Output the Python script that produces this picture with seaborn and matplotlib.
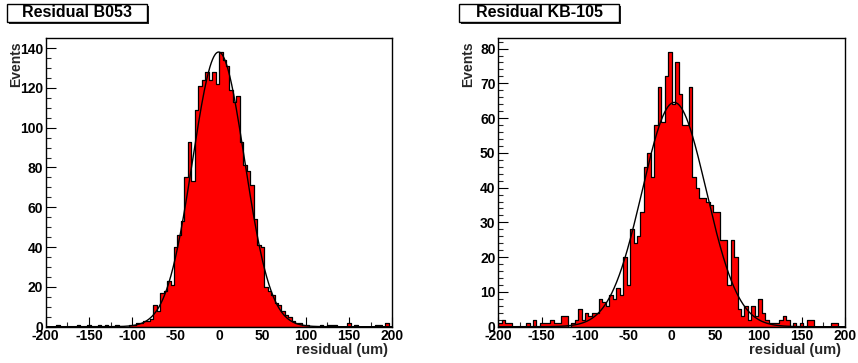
import numpy as np
import pandas as pd
import matplotlib
matplotlib.use("Agg")
import matplotlib.pyplot as plt
import seaborn as sns
from matplotlib.patches import Rectangle
from matplotlib.ticker import MultipleLocator, FixedLocator

# ---------------- data ----------------
BIN_LO, BIN_HI, BIN_W = -200, 200, 4

b053_counts = [
    0, 0, 0, 1, 0, 0, 0, 0, 0, 1,
    0, 0, 1, 0, 0, 1, 0, 1, 0, 0,
    1, 0, 0, 0, 1, 1, 2, 2, 3, 3,
    4, 11, 8, 17, 18, 23, 21, 40, 46, 53,
    75, 93, 73, 109, 121, 124, 128, 124, 128, 122,
    138, 134, 131, 119, 113, 116, 93, 81, 78, 71,
    54, 41, 40, 20, 18, 16, 12, 11, 8, 6,
    5, 3, 2, 2, 1, 1, 0, 0, 0, 1,
    0, 1, 1, 1, 0, 0, 0, 2, 0, 1,
    0, 0, 0, 0, 0, 1, 1, 0, 2, 0,
]

kb105_counts = [
    1, 2, 1, 1, 0, 0, 0, 0, 1, 0,
    2, 0, 1, 1, 1, 2, 1, 1, 3, 3,
    0, 1, 2, 5, 2, 4, 3, 4, 4, 8,
    7, 6, 9, 8, 11, 9, 20, 12, 28, 24,
    26, 33, 46, 50, 43, 58, 69, 59, 72, 79,
    64, 76, 67, 58, 58, 69, 43, 40, 37, 37,
    36, 35, 33, 33, 25, 25, 12, 25, 20, 5,
    3, 6, 2, 6, 3, 8, 4, 2, 1, 1,
    1, 2, 3, 2, 0, 1, 0, 1, 0, 2,
    2, 0, 0, 0, 0, 0, 1, 1, 0, 0,
]

# Gaussian fit parameters (constant, mean, sigma)
b053_fit = [138.0, -0.5, 30.0]
kb105_fit = [64.5, 3.0, 37.0]

titles = ["Residual B053", "Residual KB-105"]
x_label = "residual (um)"
y_label = "Events"
x_ticks = [-200, -150, -100, -50, 0, 50, 100, 150, 200]
b053_y_ticks = [0, 20, 40, 60, 80, 100, 120, 140]
kb105_y_ticks = [0, 10, 20, 30, 40, 50, 60, 70, 80]

# ---------------- style ----------------
sns.set_theme(style="white")
plt.rcParams['font.family'] = ['Liberation Sans', 'DejaVu Sans']
plt.rcParams['font.weight'] = 'bold'
plt.rcParams['axes.labelweight'] = 'bold'
plt.rcParams['axes.unicode_minus'] = False

W, H = 858, 363
fig = plt.figure(figsize=(W / 100, H / 100), dpi=100)
fig.patch.set_facecolor('white')

edges = [float(e) for e in np.arange(BIN_LO, BIN_HI + BIN_W / 2, BIN_W)]
centers = [(a + b) / 2 for a, b in zip(edges[:-1], edges[1:])]

panels = [
    dict(counts=b053_counts, fit=b053_fit, yticks=b053_y_ticks, yminor=5,
         left=45.7, box=(6.7, 146.7)),
    dict(counts=kb105_counts, fit=kb105_fit, yticks=kb105_y_ticks, yminor=2,
         left=498.3, box=(459.3, 619.3)),
]

ax_w_px = 346.7
ax_top_px, ax_bot_px = 38.3, 326.7

for p, title in zip(panels, titles):
    ax = fig.add_axes([p['left'] / W, (H - ax_bot_px) / H,
                       ax_w_px / W, (ax_bot_px - ax_top_px) / H])
    df = pd.DataFrame({'residual': centers, 'events': p['counts']})
    sns.histplot(data=df, x='residual', weights='events', bins=edges,
                 element='step', fill=True, color='#ff0000', alpha=1,
                 edgecolor='black', linewidth=0.9, ax=ax, legend=False)
    const, mean, sigma = p['fit']
    xs = np.linspace(BIN_LO, BIN_HI, 801)
    ys = const * np.exp(-0.5 * ((xs - mean) / sigma) ** 2)
    sns.lineplot(x=xs, y=ys, color='black', linewidth=1.0, ax=ax)

    ax.set_xlim(BIN_LO, BIN_HI)
    ax.set_ylim(0, max(p['counts']) * 1.05)
    ax.xaxis.set_major_locator(FixedLocator(x_ticks))
    ax.xaxis.set_minor_locator(MultipleLocator(25))
    ax.yaxis.set_major_locator(FixedLocator(p['yticks']))
    ax.yaxis.set_minor_locator(MultipleLocator(p['yminor']))
    ax.set_xticklabels([str(t) for t in x_ticks])
    ax.set_yticklabels([str(t) for t in p['yticks']])
    ax.tick_params(axis='both', which='major', direction='in', length=7.2,
                   width=0.8, labelsize=10, pad=2, colors='black',
                   top=False, right=False, left=True, bottom=True)
    ax.tick_params(axis='both', which='minor', direction='in', length=3.6,
                   width=0.8, top=False, right=False, left=True, bottom=True)
    for s in ax.spines.values():
        s.set_visible(True)
        s.set_color('black')
        s.set_linewidth(1.0)

    ax.set_xlabel(x_label, loc='right', fontsize=10.5, fontweight='bold')
    ax.xaxis.set_label_coords(0.988, -0.058)
    ax.set_ylabel(y_label, loc='top', fontsize=10, fontweight='bold')
    ax.yaxis.set_label_coords(-0.066, 0.99)

    # title box with shadow (ROOT style)
    bx0, bx1 = p['box']
    by0, by1 = 4.0, 21.7
    fig.add_artist(Rectangle(((bx0 + 2) / W, (H - by1 - 2) / H),
                             (bx1 - bx0) / W, (by1 - by0) / H,
                             transform=fig.transFigure, facecolor='#222222',
                             edgecolor='none', zorder=5))
    fig.add_artist(Rectangle((bx0 / W, (H - by1) / H),
                             (bx1 - bx0) / W, (by1 - by0) / H,
                             transform=fig.transFigure, facecolor='white',
                             edgecolor='black', linewidth=1.0, zorder=6))
    fig.text((bx0 + bx1) / 2 / W, (H - (by0 + by1) / 2) / H, title,
             ha='center', va='center', fontsize=11.5, fontweight='bold',
             color='black', zorder=7)

fig.savefig('out.png', dpi=100, facecolor='white')
